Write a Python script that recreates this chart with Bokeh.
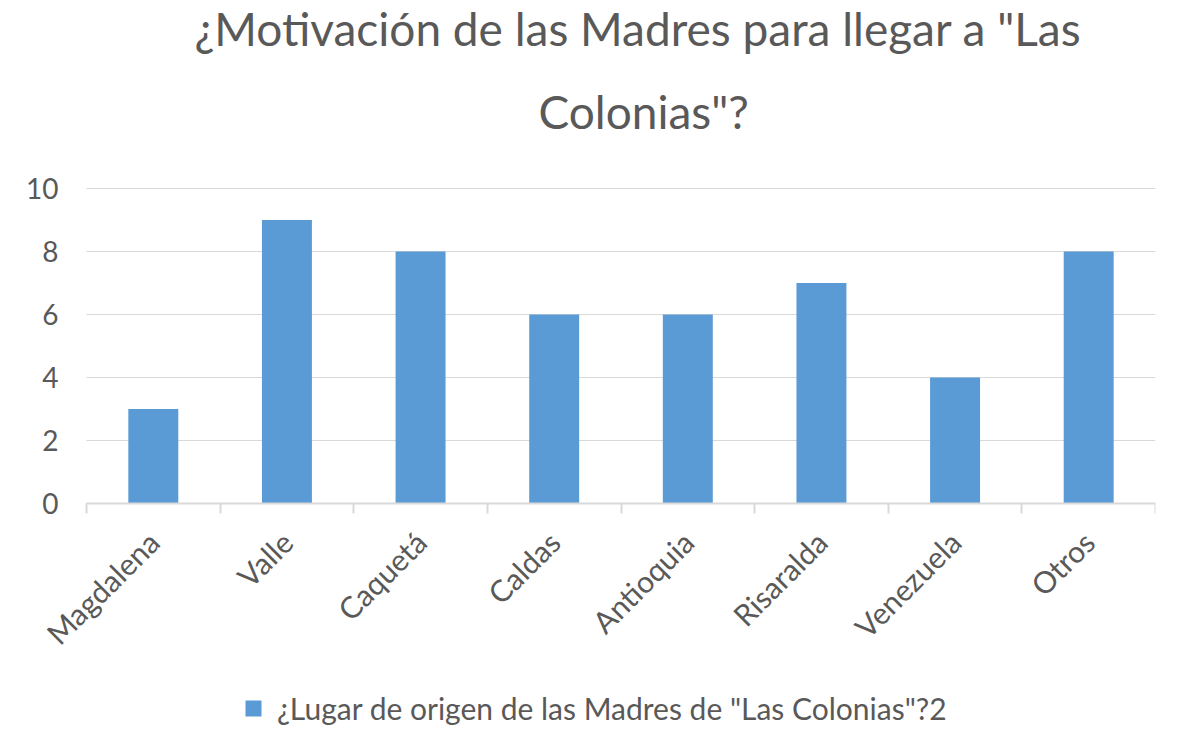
import math
from bokeh.plotting import figure
from bokeh.models import FixedTicker, Range1d, Legend, LegendItem, Title
from bokeh.embed import file_html
from bokeh.resources import INLINE

categories = ["Magdalena", "Valle", "Caquetá", "Caldas", "Antioquia", "Risaralda", "Venezuela", "Otros"]
values = [3, 9, 8, 6, 6, 7, 4, 8]
y_ticks = [0, 2, 4, 6, 8, 10]
series_name = '¿Lugar de origen de las Madres de "Las Colonias"?2'
title_line1 = '¿Motivación de las Madres para llegar a "Las'
title_line2 = 'Colonias"?'

TXT = "#595959"
GRID = "#d9d9d9"
BAR = "#5B9BD5"
FONT = "Lato"

n = len(categories)
xs = [i + 0.5 for i in range(n)]

# layout in pixels: value axis 0..10 spans 315px, categories span 1069px;
# the frame is larger so the fixed axes' labels and the legend stay inside it
PLOT_W, PLOT_H = 1069, 315
LEFT_PAD, BELOW_PAD, TOP_PAD = 76, 233, 16
px_x = PLOT_W / n
px_y = PLOT_H / 10

p = figure(frame_width=PLOT_W + LEFT_PAD, frame_height=PLOT_H + BELOW_PAD + TOP_PAD,
           output_backend="svg", toolbar_location=None,
           x_range=Range1d(-LEFT_PAD / px_x, n),
           y_range=Range1d(-BELOW_PAD / px_y, 10 + TOP_PAD / px_y),
           min_border_left=10, min_border_right=22, min_border_top=188 - TOP_PAD, min_border_bottom=0)

# horizontal gridlines at the value ticks, limited to the category area
p.segment(x0=[0] * len(y_ticks), x1=[n] * len(y_ticks), y0=y_ticks, y1=y_ticks,
          line_color=GRID, line_width=1)
r = p.vbar(x=xs, top=values, width=0.374, fill_color=BAR, line_color=None)

p.title.visible = False
p.add_layout(Title(text=title_line2, align="left", offset=452 + LEFT_PAD, text_font=FONT,
                   text_font_size="46px", text_font_style="normal", text_color=TXT,
                   standoff=52 + TOP_PAD), "above")
p.add_layout(Title(text=title_line1, align="left", offset=108 + LEFT_PAD, text_font=FONT,
                   text_font_size="46px", text_font_style="normal", text_color=TXT,
                   standoff=-17), "above")

p.outline_line_color = None
p.xgrid.visible = False
p.ygrid.visible = False

xa = p.xaxis[0]
xa.fixed_location = 0
xa.bounds = (0, n)
xa.ticker = FixedTicker(ticks=xs, minor_ticks=list(range(n + 1)))
xa.major_label_overrides = {x: c for x, c in zip(xs, categories)}
xa.major_label_orientation = math.pi / 4
xa.major_tick_line_color = None
xa.minor_tick_line_color = GRID
xa.minor_tick_line_width = 2
xa.minor_tick_out = 10
xa.minor_tick_in = 0
xa.axis_line_color = GRID
xa.axis_line_width = 2
xa.major_label_text_font = FONT
xa.major_label_text_font_size = "30px"
xa.major_label_text_color = TXT
xa.major_label_standoff = 23

ya = p.yaxis[0]
ya.fixed_location = 0
ya.bounds = (0, 10)
ya.ticker = FixedTicker(ticks=y_ticks)
ya.axis_line_color = None
ya.major_tick_line_color = None
ya.minor_tick_line_color = None
ya.major_label_text_font = FONT
ya.major_label_text_font_size = "28px"
ya.major_label_text_color = TXT
ya.major_label_standoff = 22

legend = Legend(items=[LegendItem(label=series_name, renderers=[r])],
                location=(233, 10), orientation="horizontal",
                label_text_font=FONT, label_text_font_size="30px", label_text_color=TXT,
                glyph_width=20, glyph_height=20, border_line_color=None,
                background_fill_alpha=0, margin=0, padding=5, spacing=0, label_standoff=14)
p.add_layout(legend, "center")

open("out.html", "w").write(file_html(p, INLINE))
